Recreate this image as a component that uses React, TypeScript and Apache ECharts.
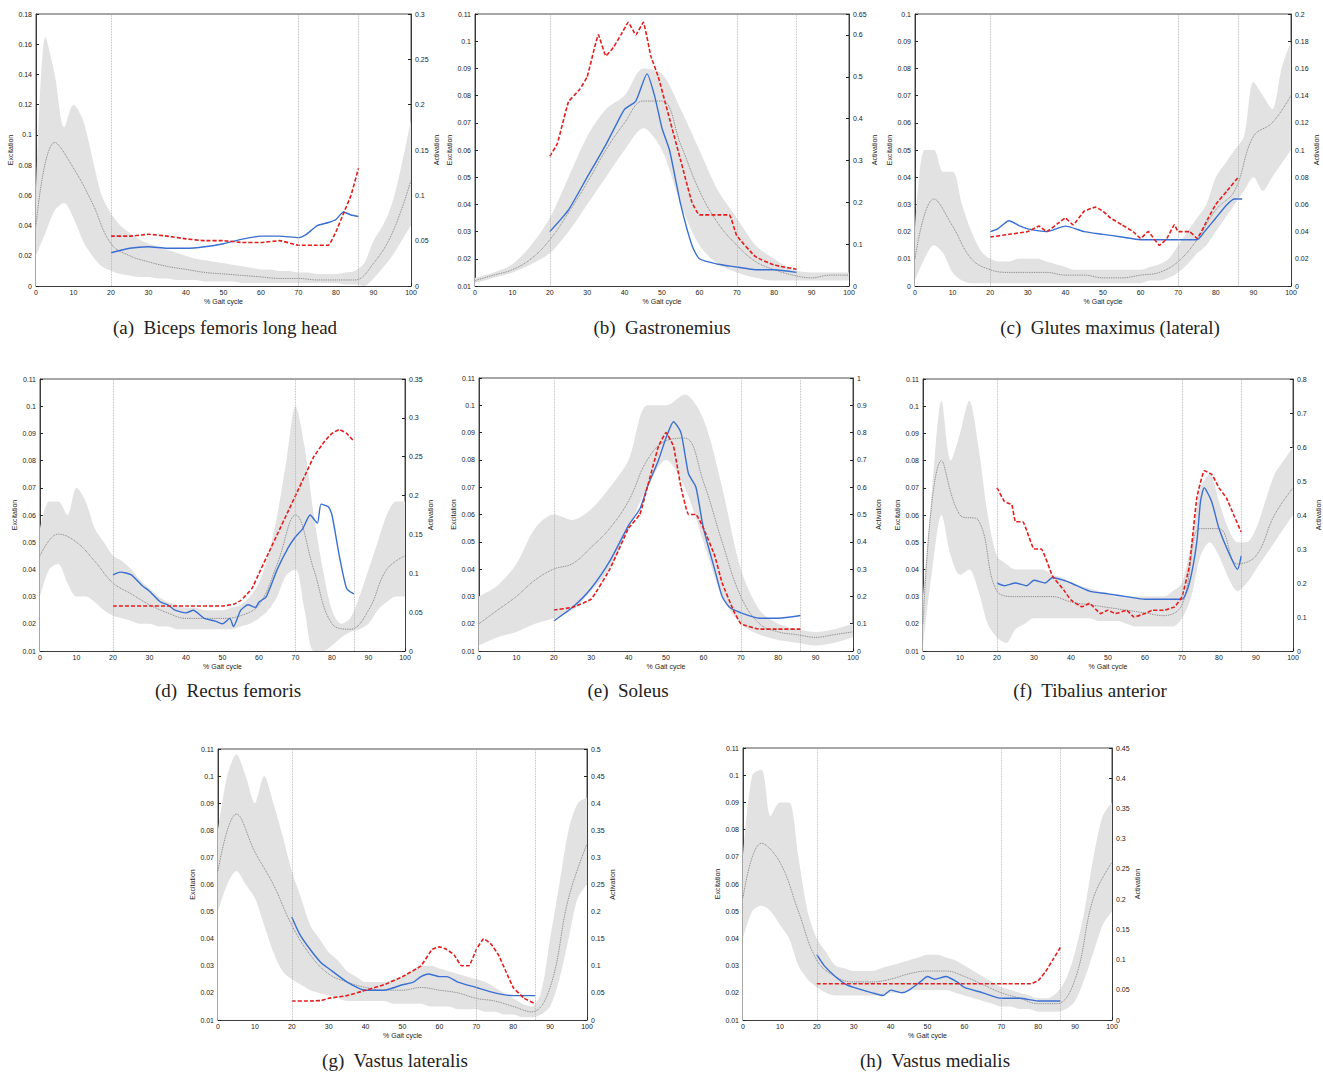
import React, { useEffect, useRef } from "react";
import * as echarts from "echarts";

// Band x grid: 0..100 step 2.5 (41 points) or step 5 (21 points)
const A_UP = [0.06,0.165,0.14,0.105,0.12,0.11,0.085,0.06,0.048,0.04,0.035,0.031,0.028,0.026,0.024,0.022,0.02,0.018,0.017,0.016,0.015,0.014,0.013,0.012,0.011,0.011,0.01,0.01,0.009,0.009,0.008,0.008,0.008,0.009,0.01,0.015,0.03,0.04,0.055,0.08,0.11];
const A_LO = [0.02,0.035,0.05,0.055,0.045,0.03,0.02,0.013,0.01,0.008,0.007,0.006,0.006,0.005,0.005,0.004,0.004,0.004,0.003,0.003,0.003,0.003,0.002,0.002,0.002,0.002,0.002,0.002,0.002,0.002,0.002,0.002,0.002,0.001,0.001,0,0.005,0.012,0.02,0.03,0.04];
const A_MEAN = [0.04,0.095,0.078,0.055,0.028,0.02,0.016,0.013,0.011,0.009,0.008,0.007,0.006,0.005,0.005,0.004,0.004,0.004,0.015,0.035,0.07];
const A_BLUE = [[20,0.022],[25,0.025],[30,0.026],[35,0.025],[40,0.025],[45,0.026],[50,0.028],[55,0.031],[60,0.033],[65,0.033],[70,0.032],[72,0.034],[75,0.04],[78,0.042],[80,0.044],[82,0.049],[84,0.047],[86,0.046]];
const A_RED = [[20,0.055],[25,0.055],[30,0.057],[35,0.055],[40,0.052],[45,0.05],[50,0.05],[55,0.048],[60,0.048],[65,0.05],[70,0.045],[75,0.045],[78,0.045],[80,0.06],[82,0.08],[84,0.1],[86,0.13]];

const B_UP = [0.013,0.015,0.018,0.025,0.035,0.05,0.065,0.075,0.08,0.09,0.088,0.075,0.06,0.045,0.035,0.025,0.02,0.016,0.015,0.015,0.015];
const B_LO = [0.011,0.013,0.015,0.018,0.022,0.03,0.04,0.05,0.06,0.068,0.06,0.04,0.025,0.018,0.015,0.013,0.012,0.012,0.012,0.012,0.012];
const B_MEAN = [0.012,0.014,0.016,0.02,0.027,0.037,0.048,0.06,0.07,0.078,0.078,0.062,0.045,0.033,0.025,0.019,0.016,0.014,0.013,0.014,0.014];
const B_BLUE = [[20,0.03],[25,0.038],[30,0.05],[35,0.062],[38,0.07],[40,0.075],[43,0.078],[46,0.088],[48,0.08],[50,0.068],[52,0.06],[55,0.04],[58,0.025],[60,0.02],[65,0.018],[70,0.017],[75,0.016],[80,0.016],[86,0.015]];
const B_RED = [[20,0.31],[22,0.34],[25,0.44],[28,0.47],[30,0.5],[33,0.6],[35,0.55],[37,0.57],[39,0.6],[41,0.63],[43,0.6],[45,0.63],[47,0.55],[49,0.5],[52,0.4],[55,0.3],[58,0.2],[60,0.17],[65,0.17],[68,0.17],[70,0.12],[75,0.07],[80,0.05],[86,0.04]];

const C_UP = [0.02,0.05,0.05,0.042,0.042,0.03,0.02,0.013,0.01,0.009,0.009,0.01,0.01,0.01,0.009,0.008,0.007,0.006,0.006,0.006,0.006,0.006,0.006,0.006,0.006,0.007,0.008,0.01,0.015,0.02,0.025,0.03,0.04,0.045,0.05,0.055,0.075,0.07,0.065,0.08,0.09];
const C_LO = [0.002,0.01,0.015,0.012,0.005,0.002,0.001,0.001,0.001,0.001,0.001,0.001,0.001,0.001,0.001,0.001,0.001,0.001,0.001,0.001,0.001,0.001,0.001,0.001,0.001,0.002,0.002,0.003,0.005,0.008,0.012,0.015,0.02,0.025,0.03,0.035,0.04,0.035,0.04,0.045,0.05];
const C_MEAN = [0.01,0.032,0.022,0.01,0.006,0.005,0.005,0.005,0.004,0.004,0.003,0.003,0.004,0.005,0.009,0.017,0.028,0.035,0.055,0.06,0.07];
const C_BLUE = [[20,0.02],[22,0.021],[25,0.024],[28,0.022],[30,0.021],[35,0.02],[40,0.022],[45,0.02],[50,0.019],[55,0.018],[60,0.017],[65,0.017],[70,0.017],[75,0.017],[77,0.02],[80,0.025],[83,0.03],[85,0.032],[87,0.032]];
const C_RED = [[20,0.036],[25,0.038],[30,0.04],[33,0.044],[35,0.04],[38,0.046],[40,0.05],[42,0.045],[45,0.055],[48,0.058],[50,0.055],[52,0.05],[55,0.045],[58,0.04],[60,0.035],[62,0.04],[65,0.03],[67,0.035],[69,0.045],[70,0.04],[73,0.04],[75,0.035],[78,0.05],[80,0.06],[83,0.07],[86,0.08]];

const D_UP = [0.055,0.065,0.065,0.06,0.07,0.065,0.055,0.05,0.045,0.043,0.04,0.036,0.033,0.03,0.028,0.027,0.026,0.026,0.025,0.025,0.025,0.026,0.027,0.03,0.035,0.045,0.06,0.08,0.1,0.085,0.06,0.04,0.025,0.02,0.022,0.03,0.04,0.05,0.06,0.065,0.065];
const D_LO = [0.03,0.04,0.042,0.035,0.03,0.03,0.028,0.025,0.023,0.022,0.021,0.02,0.02,0.019,0.019,0.018,0.018,0.018,0.018,0.018,0.018,0.018,0.019,0.02,0.022,0.025,0.03,0.038,0.04,0.025,0.01,0.01,0.012,0.015,0.017,0.018,0.02,0.025,0.028,0.03,0.03];
const D_MEAN = [0.045,0.053,0.05,0.043,0.035,0.031,0.027,0.024,0.022,0.022,0.022,0.023,0.027,0.042,0.06,0.04,0.02,0.018,0.025,0.04,0.045];
const D_BLUE = [[20,0.038],[22,0.039],[25,0.038],[28,0.034],[30,0.032],[33,0.028],[35,0.027],[37,0.025],[40,0.024],[42,0.025],[45,0.022],[48,0.021],[50,0.02],[52,0.022],[53,0.019],[55,0.025],[57,0.027],[59,0.026],[60,0.028],[62,0.03],[65,0.04],[68,0.048],[70,0.052],[72,0.055],[74,0.06],[76,0.057],[77,0.064],[79,0.063],[80,0.06],[82,0.045],[84,0.033],[86,0.031]];
const D_RED = [[20,0.058],[30,0.058],[40,0.058],[50,0.058],[53,0.06],[55,0.065],[58,0.08],[60,0.1],[63,0.13],[65,0.15],[68,0.18],[70,0.2],[73,0.23],[75,0.25],[78,0.27],[80,0.28],[82,0.285],[84,0.28],[86,0.27]];

const E_UP = [0.03,0.034,0.042,0.055,0.06,0.058,0.062,0.07,0.08,0.1,0.1,0.104,0.095,0.07,0.04,0.025,0.02,0.018,0.017,0.018,0.02];
const E_LO = [0.012,0.015,0.017,0.02,0.022,0.025,0.032,0.04,0.055,0.07,0.08,0.07,0.05,0.03,0.02,0.016,0.014,0.013,0.012,0.013,0.015];
const E_MEAN = [0.02,0.025,0.03,0.036,0.04,0.042,0.048,0.055,0.065,0.08,0.087,0.088,0.072,0.05,0.03,0.02,0.017,0.016,0.015,0.016,0.017];
const E_BLUE = [[20,0.021],[25,0.026],[30,0.033],[35,0.043],[40,0.056],[43,0.062],[45,0.07],[48,0.08],[50,0.088],[52,0.094],[54,0.09],[56,0.075],[58,0.07],[60,0.055],[63,0.04],[65,0.03],[67,0.026],[70,0.024],[75,0.022],[80,0.022],[86,0.023]];
const E_RED = [[20,0.15],[25,0.16],[30,0.19],[35,0.3],[40,0.45],[43,0.5],[45,0.6],[48,0.75],[50,0.8],[52,0.75],[54,0.6],[56,0.5],[58,0.5],[60,0.45],[63,0.35],[65,0.25],[68,0.15],[70,0.1],[75,0.08],[80,0.08],[86,0.08]];

const F_UP = [0.03,0.07,0.102,0.08,0.09,0.102,0.085,0.06,0.045,0.042,0.04,0.04,0.04,0.04,0.038,0.037,0.035,0.034,0.033,0.032,0.031,0.03,0.03,0.03,0.03,0.03,0.03,0.032,0.035,0.05,0.07,0.075,0.065,0.055,0.05,0.05,0.055,0.065,0.075,0.08,0.085];
const F_LO = [0.012,0.04,0.06,0.045,0.038,0.04,0.032,0.02,0.015,0.013,0.018,0.02,0.022,0.022,0.022,0.022,0.022,0.022,0.022,0.021,0.021,0.021,0.02,0.019,0.019,0.019,0.019,0.019,0.022,0.03,0.045,0.05,0.045,0.037,0.032,0.035,0.04,0.045,0.05,0.055,0.06];
const F_MEAN = [0.02,0.08,0.06,0.058,0.032,0.03,0.03,0.03,0.028,0.027,0.026,0.025,0.024,0.023,0.027,0.055,0.055,0.042,0.045,0.06,0.07];
const F_BLUE = [[20,0.035],[22,0.034],[25,0.035],[28,0.034],[30,0.036],[33,0.035],[35,0.037],[38,0.036],[40,0.035],[45,0.032],[50,0.031],[55,0.03],[60,0.029],[65,0.029],[70,0.029],[72,0.035],[74,0.05],[75,0.065],[76,0.07],[78,0.065],[80,0.055],[83,0.045],[85,0.04],[86,0.045]];
const F_RED = [[20,0.48],[22,0.44],[24,0.43],[25,0.38],[27,0.38],[30,0.3],[32,0.3],[35,0.22],[38,0.18],[40,0.15],[43,0.13],[45,0.14],[48,0.11],[50,0.12],[52,0.11],[55,0.12],[57,0.1],[60,0.11],[62,0.12],[65,0.12],[68,0.13],[70,0.16],[72,0.25],[74,0.45],[76,0.53],[78,0.52],[80,0.48],[82,0.45],[84,0.4],[86,0.35]];

const G_UP = [0.08,0.1,0.108,0.1,0.09,0.1,0.09,0.078,0.065,0.055,0.045,0.04,0.035,0.032,0.028,0.026,0.024,0.024,0.024,0.025,0.026,0.028,0.03,0.03,0.029,0.028,0.027,0.026,0.025,0.024,0.022,0.02,0.018,0.016,0.015,0.02,0.04,0.06,0.08,0.09,0.092];
const G_LO = [0.05,0.06,0.065,0.06,0.055,0.045,0.035,0.028,0.025,0.023,0.021,0.02,0.019,0.018,0.017,0.017,0.017,0.017,0.017,0.016,0.016,0.016,0.016,0.015,0.015,0.015,0.014,0.014,0.014,0.013,0.013,0.012,0.012,0.011,0.011,0.012,0.015,0.025,0.04,0.055,0.06];
const G_MEAN = [0.065,0.086,0.072,0.06,0.045,0.034,0.027,0.024,0.022,0.021,0.021,0.022,0.021,0.02,0.018,0.017,0.015,0.013,0.022,0.055,0.075];
const G_BLUE = [[20,0.048],[22,0.042],[25,0.036],[28,0.031],[30,0.029],[35,0.024],[40,0.021],[45,0.021],[50,0.023],[53,0.024],[55,0.026],[57,0.027],[60,0.026],[62,0.026],[65,0.024],[70,0.022],[75,0.02],[80,0.019],[86,0.019]];
const G_RED = [[20,0.035],[25,0.035],[28,0.036],[30,0.04],[35,0.045],[40,0.055],[45,0.065],[50,0.08],[55,0.1],[58,0.13],[60,0.135],[62,0.13],[64,0.12],[66,0.1],[68,0.1],[70,0.13],[72,0.15],[74,0.14],[76,0.12],[78,0.09],[80,0.06],[83,0.04],[86,0.03]];

const H_UP = [0.07,0.1,0.102,0.085,0.09,0.09,0.07,0.05,0.04,0.035,0.03,0.029,0.028,0.028,0.028,0.029,0.03,0.031,0.032,0.033,0.034,0.034,0.033,0.032,0.03,0.028,0.026,0.024,0.022,0.021,0.02,0.019,0.018,0.018,0.02,0.025,0.035,0.05,0.07,0.085,0.09];
const H_LO = [0.04,0.05,0.052,0.05,0.045,0.04,0.03,0.025,0.022,0.02,0.019,0.019,0.019,0.019,0.019,0.019,0.02,0.02,0.021,0.021,0.021,0.021,0.021,0.02,0.019,0.018,0.017,0.016,0.015,0.015,0.014,0.014,0.013,0.013,0.013,0.014,0.017,0.025,0.035,0.045,0.05];
const H_MEAN = [0.055,0.075,0.068,0.05,0.032,0.026,0.024,0.024,0.025,0.027,0.028,0.028,0.026,0.023,0.02,0.018,0.016,0.016,0.025,0.055,0.068];
const H_BLUE = [[20,0.034],[22,0.03],[25,0.026],[28,0.023],[30,0.022],[35,0.02],[38,0.019],[40,0.021],[43,0.02],[45,0.021],[48,0.024],[50,0.026],[52,0.025],[55,0.026],[58,0.024],[60,0.022],[65,0.02],[70,0.018],[75,0.018],[80,0.017],[86,0.017]];
const H_RED = [[20,0.06],[30,0.06],[40,0.06],[50,0.06],[60,0.06],[70,0.06],[78,0.06],[80,0.065],[82,0.08],[84,0.1],[86,0.12]];

const CAPTIONS = ["(a)  Biceps femoris long head","(b)  Gastronemius","(c)  Glutes maximus (lateral)","(d)  Rectus femoris","(e)  Soleus","(f)  Tibalius anterior","(g)  Vastus lateralis","(h)  Vastus medialis"];

const PANELS = [
  { up: A_UP, lo: A_LO, mean: A_MEAN, blue: A_BLUE, red: A_RED, l: [0, 0.18, 0.02], r: [0, 0.3, 0.05], box: [36, 14, 375, 272], cap: [225, 327] },
  { up: B_UP, lo: B_LO, mean: B_MEAN, blue: B_BLUE, red: B_RED, l: [0.01, 0.11, 0.01], r: [0, 0.65, 0.1], box: [475, 14, 374, 272], cap: [662, 327] },
  { up: C_UP, lo: C_LO, mean: C_MEAN, blue: C_BLUE, red: C_RED, l: [0, 0.1, 0.01], r: [0, 0.2, 0.02], box: [915, 14, 376, 272], cap: [1110, 327] },
  { up: D_UP, lo: D_LO, mean: D_MEAN, blue: D_BLUE, red: D_RED, l: [0.01, 0.11, 0.01], r: [0, 0.35, 0.05], box: [40, 379, 365, 272], cap: [228, 690] },
  { up: E_UP, lo: E_LO, mean: E_MEAN, blue: E_BLUE, red: E_RED, l: [0.01, 0.11, 0.01], r: [0, 1, 0.1], box: [479, 378, 374, 273], cap: [628, 690] },
  { up: F_UP, lo: F_LO, mean: F_MEAN, blue: F_BLUE, red: F_RED, l: [0.01, 0.11, 0.01], r: [0, 0.8, 0.1], box: [923, 379, 375, 272], cap: [1090, 690] },
  { up: G_UP, lo: G_LO, mean: G_MEAN, blue: G_BLUE, red: G_RED, l: [0.01, 0.11, 0.01], r: [0, 0.5, 0.05], box: [218, 749, 369, 271], cap: [395, 1060] },
  { up: H_UP, lo: H_LO, mean: H_MEAN, blue: H_BLUE, red: H_RED, l: [0.01, 0.11, 0.01], r: [0, 0.45, 0.05], box: [743, 748, 369, 272], cap: [935, 1060] },
];
const VLINES = [20, 70, 86];

function xs(n: number) {
  const step = 100 / (n - 1);
  return Array.from({ length: n }, (_, i) => i * step);
}

function buildOption() {
  const grid: any[] = [], xAxis: any[] = [], yAxis: any[] = [], series: any[] = [], graphic: any[] = [];
  const lab = { fontSize: 7, color: "#222", fontFamily: "Liberation Sans" };
  PANELS.forEach((p, i) => {
    const [left, top, width, height] = p.box;
    grid.push({ left, top, width, height, show: true, borderColor: "#222", borderWidth: 0.8, backgroundColor: "#fff" });
    xAxis.push({
      type: "value", gridIndex: i, min: 0, max: 100, interval: 10,
      name: "% Gait cycle", nameLocation: "middle", nameGap: 12, nameTextStyle: { fontSize: 7, color: "#222" },
      axisLine: { lineStyle: { color: "#222", width: 0.8 } }, axisTick: { inside: true, length: 3, lineStyle: { color: "#222" } },
      axisLabel: { ...lab, margin: 3 }, splitLine: { show: false },
    });
    const yBase = {
      type: "value", gridIndex: i, nameLocation: "middle", nameRotate: 90, nameTextStyle: { fontSize: 7, color: "#222" },
      axisLine: { show: true, lineStyle: { color: "#222", width: 0.8 } }, axisTick: { show: true, inside: true, length: 3, lineStyle: { color: "#222" } },
      axisLabel: { ...lab, margin: 4 }, splitLine: { show: false },
    };
    yAxis.push({ ...yBase, position: "left", min: p.l[0], max: p.l[1], interval: p.l[2], name: "Excitation", nameGap: 20 });
    yAxis.push({ ...yBase, position: "right", min: p.r[0], max: p.r[1], interval: p.r[2], name: "Activation", nameGap: 22 });
    const bx = xs(p.up.length);
    const mx = xs(p.mean.length);
    const xi = i, yl = 2 * i, yr = 2 * i + 1;
    series.push({
      type: "line", xAxisIndex: xi, yAxisIndex: yl, smooth: 0.3, symbol: "none", silent: true,
      lineStyle: { width: 0 }, areaStyle: { color: "#e2e2e2", opacity: 1, origin: "start" },
      data: bx.map((x, k) => [x, p.up[k]]),
    });
    series.push({
      type: "line", xAxisIndex: xi, yAxisIndex: yl, smooth: 0.3, symbol: "none", silent: true,
      lineStyle: { width: 0 }, areaStyle: { color: "#ffffff", opacity: 1, origin: "start" },
      data: bx.map((x, k) => [x, Math.max(p.lo[k], p.l[0])]),
    });
    series.push({
      type: "line", xAxisIndex: xi, yAxisIndex: yl, smooth: 0.4, symbol: "none",
      lineStyle: { color: "#777", type: "dotted", width: 0.9 }, data: mx.map((x, k) => [x, p.mean[k]]),
      markLine: {
        symbol: "none", silent: true, label: { show: false },
        lineStyle: { color: "#aaa", type: "dotted", width: 0.8 },
        data: VLINES.map((v) => ({ xAxis: v })),
      },
    });
    series.push({
      type: "line", xAxisIndex: xi, yAxisIndex: yl, smooth: 0.2, symbol: "none",
      lineStyle: { color: "#3a6fd2", width: 1.4 }, data: p.blue,
    });
    series.push({
      type: "line", xAxisIndex: xi, yAxisIndex: yr, smooth: 0.1, symbol: "none",
      lineStyle: { color: "#e41d1d", width: 1.6, type: [4, 2] }, data: p.red,
    });
    graphic.push({
      type: "text", x: p.cap[0], y: p.cap[1],
      style: { text: CAPTIONS[i], font: "19px 'Liberation Serif', serif", fill: "#222", textAlign: "center", textVerticalAlign: "middle" },
    });
  });
  return { animation: false, backgroundColor: "#fff", grid, xAxis, yAxis, series, graphic };
}

export default function App() {
  const ref = useRef<HTMLDivElement>(null);
  useEffect(() => {
    document.body.style.margin = "0";
    const chart = echarts.init(ref.current!, undefined, { renderer: "svg" });
    chart.setOption(buildOption() as any);
    return () => chart.dispose();
  }, []);
  return <div ref={ref} style={{ width: 1323, height: 1075 }} />;
}
